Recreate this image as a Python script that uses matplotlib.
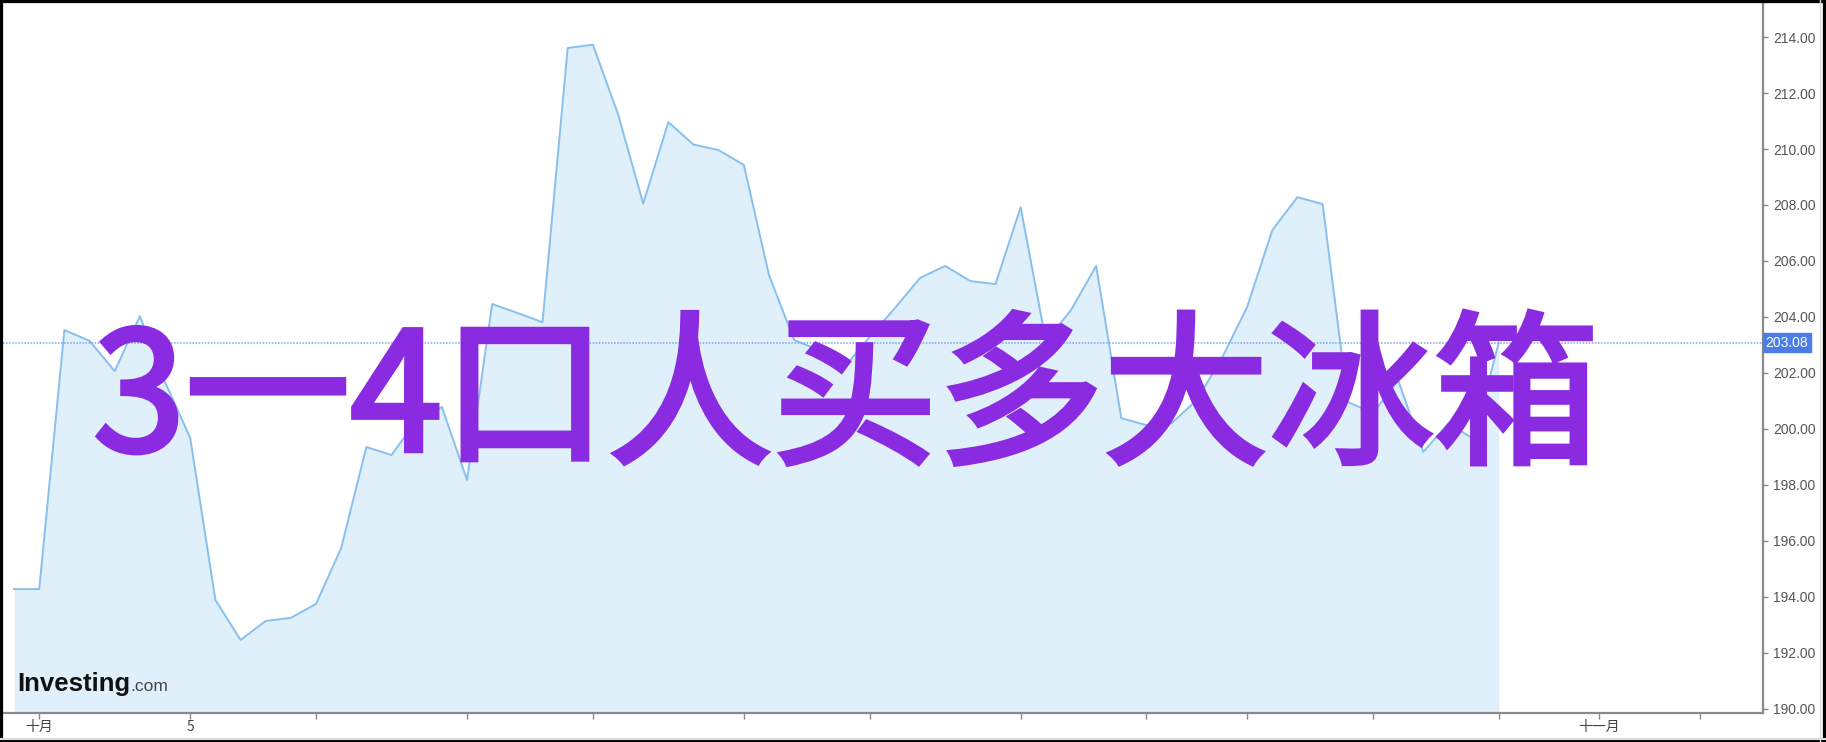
import numpy as np
import matplotlib
matplotlib.use("Agg")
import matplotlib.pyplot as plt
import matplotlib.patheffects as pe
from matplotlib.patches import Rectangle
from matplotlib.lines import Line2D

plt.rcParams['font.family'] = ['Liberation Sans', 'Noto Sans CJK SC', 'DejaVu Sans']

# Price series (one point per session)
prices = [194.27, 194.27, 203.53, 203.14, 202.06, 204.03, 201.67, 199.67, 193.88, 192.45,
          193.13, 193.24, 193.74, 195.74, 199.35, 199.06, 200.31, 200.78, 198.17, 204.46,
          204.14, 203.81, 213.61, 213.73, 211.25, 208.05, 210.96, 210.16, 209.96, 209.43,
          205.49, 203.17, 202.81, 202.21, 203.28, 204.31, 205.39, 205.82, 205.28, 205.17,
          207.92, 203.14, 204.24, 205.82, 200.38, 200.13, 200.20, 201.03, 202.53, 204.35,
          207.10, 208.28, 208.03, 200.96, 200.56, 201.74, 199.17, 200.20, 199.63, 203.08]
last_price = 203.08

x_ticks = [1, 7, 12, 18, 23, 29, 34, 40, 45, 49, 54, 59, 63, 67]
x_labels = ['十月', '5', '', '', '', '', '', '', '', '', '', '', '十一月', '']
y_ticks = [190, 192, 194, 196, 198, 200, 202, 204, 206, 208, 210, 212, 214]

title = '3一4口人买多大冰箱'

W, H = 1826, 742
fig = plt.figure(figsize=(W / 100, H / 100), dpi=100)
ax = fig.add_axes([3 / W, 1 - 713 / H, (1763 - 3) / W, (713 - 3) / H])

x = np.arange(len(prices))
ymin, ymax = 189.84, 215.22
ax.fill_between(x, prices, ymin, color='#e0f0fa', linewidth=0, zorder=1)
ax.plot(x, prices, color='#88bfee', linewidth=1.4, zorder=2)
ax.axhline(last_price, color='#7fa3ee', linestyle=(0, (1, 1)), linewidth=1.1, zorder=3)

ax.set_xlim(-0.44, 69.5)
ax.set_ylim(ymin, ymax)

for s in ['left', 'top']:
    ax.spines[s].set_visible(False)
ax.spines['bottom'].set_color('#8a8a8a')
ax.spines['bottom'].set_linewidth(1.6)
ax.spines['right'].set_color('#8a8a8a')
ax.spines['right'].set_linewidth(1.6)

ax.yaxis.tick_right()
ax.set_yticks(y_ticks)
ax.set_yticklabels([f'{v:.2f}' for v in y_ticks])
ax.tick_params(axis='y', direction='out', length=3.5, width=1, color='#8a8a8a',
               labelsize=10, labelcolor='#555555', pad=4)
ax.set_xticks(x_ticks)
ax.set_xticklabels(x_labels, family=['Noto Sans CJK SC', 'DejaVu Sans'])
ax.tick_params(axis='x', direction='out', length=4, width=1, color='#8a8a8a',
               labelsize=10, labelcolor='#444444', pad=1)

# current price tag on the right axis
ax.text(1.0015, last_price, f'{last_price:.2f}', transform=ax.get_yaxis_transform(),
        ha='left', va='center', color='white', fontsize=10,
        bbox=dict(boxstyle='square,pad=0.18', facecolor='#4a7ee6', edgecolor='#4a7ee6'),
        zorder=5, clip_on=False)

# watermark logo
fig.text(17 / W, 1 - 691 / H, 'Investing', fontsize=18.5, fontweight='bold',
         color='#111111', ha='left', va='baseline')
fig.text(130 / W, 1 - 691 / H, '.com', fontsize=12.5, color='#444444', ha='left', va='baseline')

# big overlay title (regular face thickened with a stroke)
fig.text(846 / W, 1 - 404 / H, title, fontsize=119, color='#8a2be2',
         ha='center', va='center', family=['Noto Sans CJK SC', 'DejaVu Sans'], zorder=10,
         path_effects=[pe.withStroke(linewidth=3.6, foreground='#8a2be2',
                                     joinstyle='miter', capstyle='projecting')])

# outer frame
fig.add_artist(Line2D([1820 / W, 1820 / W], [0, 1], transform=fig.transFigure,
                      color='#dddddd', linewidth=1))
fig.add_artist(Line2D([0, 1], [1 - 739 / H, 1 - 739 / H], transform=fig.transFigure,
                      color='#dddddd', linewidth=1.5))
fig.add_artist(Rectangle((0, 0), 1, 1, transform=fig.transFigure, fill=False,
                         edgecolor='black', linewidth=4.5))

fig.savefig('out.png', dpi=100, facecolor='white')
